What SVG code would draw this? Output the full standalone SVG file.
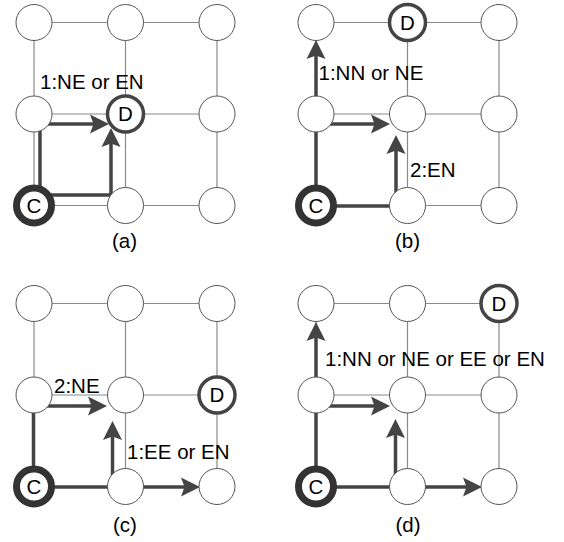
<svg xmlns="http://www.w3.org/2000/svg" width="564" height="542" viewBox="0 0 564 542">
<style>
.grid{fill:none;stroke:#8a8a8a;stroke-width:1.2}
.n{fill:#fff;stroke:#555;stroke-width:1}
.d{fill:#fff;stroke:#444;stroke-width:3.5}
.c{fill:#fff;stroke:#333;stroke-width:7}
.p{fill:none;stroke:#444;stroke-width:3.5;stroke-linejoin:miter;marker-end:url(#ah)}
text{font-family:"Liberation Sans",Arial,sans-serif;font-size:20.5px;fill:#000}
.m{text-anchor:middle}
</style>
<defs>
<marker id="ah" markerUnits="userSpaceOnUse" markerWidth="20" markerHeight="20" viewBox="-10 -10 20 20" refX="0" refY="0" orient="auto">
<path d="M10,0 L-9,-9.5 L-5.5,0 L-9,9.5 Z" fill="#444"/>
</marker>
<g id="grid">
<path class="grid" d="M0,0H183M0,91.5H183M0,183H183M0,0V183M91.5,0V183M183,0V183"/>
</g>
</defs>
<rect width="564" height="542" fill="#fff"/>
<g id="grids">
<use href="#grid" x="34" y="22.5"/>
<use href="#grid" x="316" y="22.5"/>
<use href="#grid" x="34" y="303.5"/>
<use href="#grid" x="316" y="303.5"/>
</g>
<g id="connectors">
<path class="p" d="M40,197V124H99"/>
<path class="p" d="M40,195H111V138"/>
<path class="p" d="M316,205V50"/>
<path class="p" d="M316,124H380"/>
<path class="p" d="M316,206H396V145"/>
<path class="p" d="M33.5,486V406H97"/>
<path class="p" d="M33.5,487H190"/>
<path class="p" d="M112.5,487V431"/>
<path class="p" d="M316,486V332"/>
<path class="p" d="M316,406H380"/>
<path class="p" d="M316,487H472"/>
<path class="p" d="M395.5,487V429"/>
</g>
<g id="panel-a">
<g id="a-n00"><circle class="n" cx="34" cy="22.5" r="18"/></g>
<g id="a-n10"><circle class="n" cx="125.5" cy="22.5" r="18"/></g>
<g id="a-n20"><circle class="n" cx="217" cy="22.5" r="18"/></g>
<g id="a-n01"><circle class="n" cx="34" cy="114" r="18"/></g>
<g id="a-D"><circle class="d" cx="125.5" cy="114" r="18"/><text class="m" x="125.5" y="121">D</text></g>
<g id="a-n21"><circle class="n" cx="217" cy="114" r="18"/></g>
<g id="a-C"><circle class="c" cx="34" cy="205.5" r="17.5"/><text class="m" x="34" y="212.5">C</text></g>
<g id="a-n12"><circle class="n" cx="125.5" cy="205.5" r="18"/></g>
<g id="a-n22"><circle class="n" cx="217" cy="205.5" r="18"/></g>
<text x="40" y="89">1:NE or EN</text>
<text class="m" x="124.5" y="248">(a)</text>
</g>
<g id="panel-b">
<g id="b-n00"><circle class="n" cx="316" cy="22.5" r="18"/></g>
<g id="b-D"><circle class="d" cx="407.5" cy="22.5" r="18"/><text class="m" x="407.5" y="29.5">D</text></g>
<g id="b-n20"><circle class="n" cx="499" cy="22.5" r="18"/></g>
<g id="b-n01"><circle class="n" cx="316" cy="114" r="18"/></g>
<g id="b-n11"><circle class="n" cx="407.5" cy="114" r="18"/></g>
<g id="b-n21"><circle class="n" cx="499" cy="114" r="18"/></g>
<g id="b-C"><circle class="c" cx="316" cy="205.5" r="17.5"/><text class="m" x="316" y="212.5">C</text></g>
<g id="b-n12"><circle class="n" cx="407.5" cy="205.5" r="18"/></g>
<g id="b-n22"><circle class="n" cx="499" cy="205.5" r="18"/></g>
<text x="318.5" y="80">1:NN or NE</text>
<text x="410" y="177">2:EN</text>
<text class="m" x="407.5" y="248">(b)</text>
</g>
<g id="panel-c">
<g id="c-n00"><circle class="n" cx="34" cy="303.5" r="18"/></g>
<g id="c-n10"><circle class="n" cx="125.5" cy="303.5" r="18"/></g>
<g id="c-n20"><circle class="n" cx="217" cy="303.5" r="18"/></g>
<g id="c-n01"><circle class="n" cx="34" cy="395" r="18"/></g>
<g id="c-n11"><circle class="n" cx="125.5" cy="395" r="18"/></g>
<g id="c-D"><circle class="d" cx="217" cy="395" r="18"/><text class="m" x="217" y="402">D</text></g>
<g id="c-C"><circle class="c" cx="34" cy="486.5" r="17.5"/><text class="m" x="34" y="493.5">C</text></g>
<g id="c-n12"><circle class="n" cx="125.5" cy="486.5" r="18"/></g>
<g id="c-n22"><circle class="n" cx="217" cy="486.5" r="18"/></g>
<text x="54" y="393">2:NE</text>
<text x="127" y="459">1:EE or EN</text>
<text class="m" x="125" y="532">(c)</text>
</g>
<g id="panel-d">
<g id="d-n00"><circle class="n" cx="316" cy="303.5" r="18"/></g>
<g id="d-n10"><circle class="n" cx="407.5" cy="303.5" r="18"/></g>
<g id="d-D"><circle class="d" cx="499" cy="303.5" r="18"/><text class="m" x="499" y="310.5">D</text></g>
<g id="d-n01"><circle class="n" cx="316" cy="395" r="18"/></g>
<g id="d-n11"><circle class="n" cx="407.5" cy="395" r="18"/></g>
<g id="d-n21"><circle class="n" cx="499" cy="395" r="18"/></g>
<g id="d-C"><circle class="c" cx="316" cy="486.5" r="17.5"/><text class="m" x="316" y="493.5">C</text></g>
<g id="d-n12"><circle class="n" cx="407.5" cy="486.5" r="18"/></g>
<g id="d-n22"><circle class="n" cx="499" cy="486.5" r="18"/></g>
<text x="325" y="366">1:NN or NE or EE or EN</text>
<text class="m" x="408" y="532">(d)</text>
</g>
</svg>
